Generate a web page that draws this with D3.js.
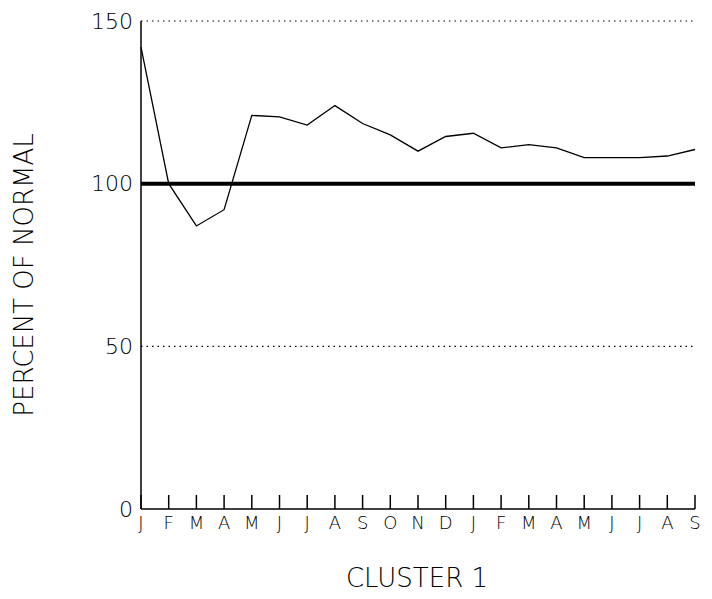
<!DOCTYPE html>
<html><head><meta charset="utf-8">
<script src="https://cdn.jsdelivr.net/npm/d3@7"></script>
<style>body{margin:0;background:#fff}text{font-family:"DejaVu Sans",sans-serif;font-weight:200}</style>
</head><body><div id="chart"></div>
<script>
const months = ["J","F","M","A","M","J","J","A","S","O","N","D","J","F","M","A","M","J","J","A","S"];
const values = [142,100,87,92,121,120.5,118,124,118.5,115,110,114.5,115.5,111,112,111,108,108,108,108.5,110.5];
const yTicks = [0,50,100,150];

const margin = {top: 21, left: 141, bottom: 90, right: 17};
const width = 712 - margin.left - margin.right;
const height = 599 - margin.top - margin.bottom;

const svg = d3.select("#chart").append("svg")
    .attr("width", 712).attr("height", 599)
  .append("g")
    .attr("transform", `translate(${margin.left}, ${margin.top})`);

const x = d3.scaleLinear().domain([0, months.length - 1]).range([0, width]);
const y = d3.scaleLinear().domain([0, 150]).range([height, 0]);

// dotted reference lines
svg.selectAll(".grid").data([50, 150]).enter().append("line")
    .attr("x1", 0).attr("x2", width)
    .attr("y1", d => y(d)).attr("y2", d => y(d))
    .attr("stroke", "#000").attr("stroke-width", 1.2)
    .attr("stroke-dasharray", "1.5,4");

// thick normal line
svg.append("line")
    .attr("x1", 0).attr("x2", width)
    .attr("y1", y(100)).attr("y2", y(100))
    .attr("stroke", "#000").attr("stroke-width", 4);

// axes
svg.append("line").attr("x1", 0).attr("x2", 0).attr("y1", 0).attr("y2", height)
    .attr("stroke", "#000").attr("stroke-width", 1.5);
svg.append("line").attr("x1", 0).attr("x2", width).attr("y1", height).attr("y2", height)
    .attr("stroke", "#000").attr("stroke-width", 1.5);

svg.selectAll(".ytick").data(yTicks).enter().append("text")
    .attr("x", -8).attr("y", d => y(d)).attr("dy", "0.35em")
    .attr("text-anchor", "end").attr("font-size", 22).text(d => d);

svg.selectAll(".xtick").data(months).enter().append("line")
    .attr("x1", (d, i) => x(i)).attr("x2", (d, i) => x(i))
    .attr("y1", height).attr("y2", height - 14)
    .attr("stroke", "#000").attr("stroke-width", 1.5);

svg.selectAll(".xlab").data(months).enter().append("text")
    .attr("x", (d, i) => x(i)).attr("y", height + 20)
    .attr("text-anchor", "middle").attr("font-size", 18).text(d => d);

// data line
svg.append("path").datum(values)
    .attr("fill", "none").attr("stroke", "#000").attr("stroke-width", 1.3)
    .attr("d", d3.line().x((d, i) => x(i)).y(d => y(d)));

// titles
svg.append("text").attr("transform", `translate(${-108}, ${height / 2 + 10}) rotate(-90)`)
    .attr("text-anchor", "middle").attr("font-size", 26).text("PERCENT OF NORMAL");
svg.append("text").attr("x", width / 2 - 1).attr("y", height + 78)
    .attr("text-anchor", "middle").attr("font-size", 26).text("CLUSTER 1");
</script></body></html>
